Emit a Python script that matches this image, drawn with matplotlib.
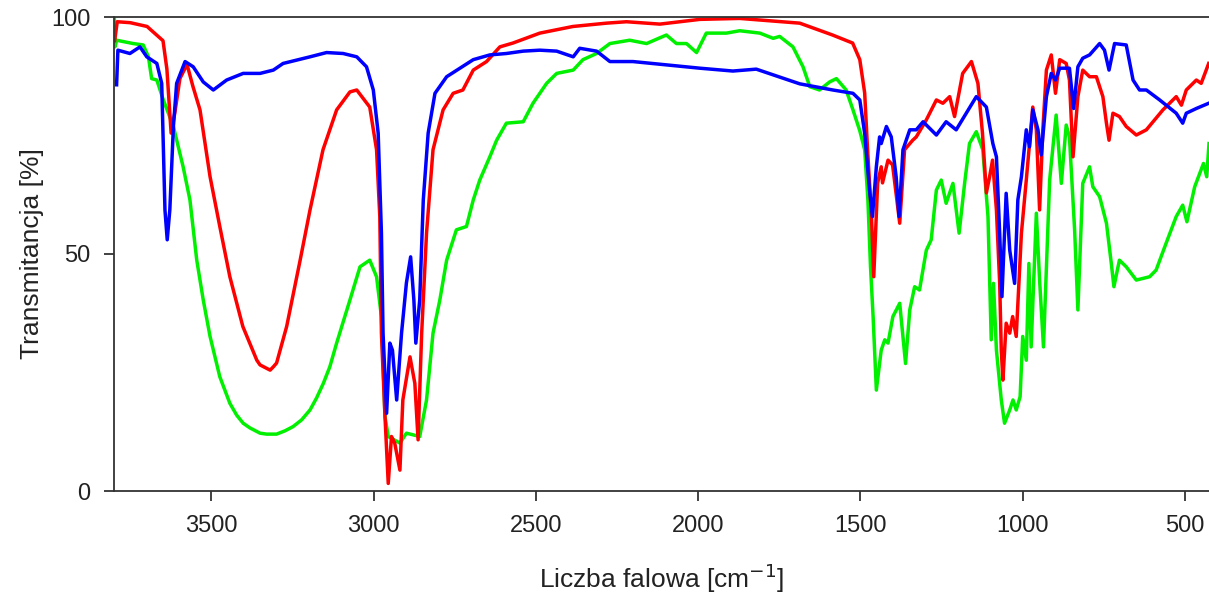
import matplotlib
matplotlib.use("Agg")
import matplotlib.pyplot as plt

# ---- data (wavenumber [cm-1], transmittance [%]) ----
red_wn = [3798, 3790, 3750, 3698, 3690, 3649, 3637, 3624, 3612, 3597, 3575, 3557, 3535, 3504, 3474,
          3443, 3403, 3360, 3350, 3319, 3309, 3299, 3268, 3227, 3196, 3156, 3114, 3073, 3052, 3012, 2991,
          2981, 2976, 2965, 2955, 2945, 2935, 2919, 2910, 2888, 2873, 2863, 2852, 2837, 2817,
          2786, 2755, 2725, 2693, 2652, 2611, 2571, 2488, 2386, 2283, 2221, 2118, 1995, 1872,
          1687, 1586, 1524, 1502, 1487, 1478, 1466, 1459, 1447, 1436, 1432, 1415, 1401, 1379,
          1364, 1339, 1328, 1297, 1266, 1246, 1225, 1210, 1185, 1158, 1138, 1124, 1112, 1102,
          1093, 1081, 1071, 1066, 1061, 1051, 1040, 1031, 1020, 1004, 989, 969, 958, 948, 938,
          927, 912, 899, 886, 866, 856, 845, 830, 815, 794, 773, 753, 742, 734, 722, 702, 681,
          650, 619, 568, 527, 511, 496, 465, 450, 427]
red_t = [95, 99, 98.8, 98, 97.5, 95, 89, 75.5, 80, 87, 90, 85.4, 80.4, 66.3, 55.8,
         45.2, 34.7, 27.6, 26.6, 25.5, 26.2, 27, 34.7, 48.5, 59.3, 72, 80.4, 84.2, 84.6, 81, 72,
         57.9, 33.3, 15.7, 1.6, 11.5, 10.1, 4.4, 19.2, 28.3, 22.7, 10.8, 33.3, 54.4, 72,
         80.4, 83.9, 84.6, 88.8, 90.6, 93.7, 94.5, 96.6, 98, 98.7, 99, 98.5, 99.5, 99.7,
         98.7, 96.2, 94.5, 91, 84, 72, 57.9, 45.2, 65, 68.4, 65, 69.8, 68.8, 56.5,
         72, 74, 74.7, 78.3, 82.5, 81.8, 83.2, 79, 88.1, 90.6, 86, 75.5, 62.9, 66.3,
         69.8, 59.3, 43.9, 29.7, 23.4, 35.4, 33.3, 36.8, 32.6, 54.4, 65.6, 81, 76.2, 59.3, 76.2,
         88.8, 92, 83.9, 91, 90.2, 86.7, 70.5, 83.2, 88.8, 87.4, 87.4, 83.2, 77.6, 74, 79.7, 79, 76.9,
         75.1, 76.2, 80.4, 83.2, 81.4, 84.6, 86.7, 86, 90.2]

blue_wn = [3792, 3788, 3751, 3720, 3699, 3668, 3653, 3650, 3643, 3636, 3628, 3617, 3607, 3581,
           3556, 3525, 3494, 3453, 3402, 3350, 3309, 3279, 3196, 3145, 3094, 3052, 3022, 3001,
           2986, 2976, 2971, 2960, 2950, 2942, 2929, 2914, 2899, 2886, 2876, 2870, 2858, 2847,
           2832, 2811, 2775, 2734, 2693, 2642, 2591, 2539, 2488, 2436, 2385, 2365, 2313, 2272,
           2201, 2098, 1995, 1893, 1821, 1739, 1687, 1585, 1523, 1502, 1487, 1472, 1463, 1451,
           1441, 1436, 1420, 1405, 1390, 1381, 1369, 1348, 1328, 1307, 1266, 1236, 1205, 1174,
           1143, 1112, 1092, 1081, 1071, 1064, 1051, 1040, 1025, 1015, 1004, 989, 979, 969, 953,
           943, 927, 912, 899, 886, 856, 843, 830, 815, 794, 763, 748, 734, 717, 681, 660, 640,
           619, 578, 527, 507, 496, 465, 427]
blue_t = [85.7, 93, 92.3, 93.7, 91.6, 90.2, 86, 78, 59.3, 53, 59.3, 76.9, 86, 90.6,
          89.5, 86.3, 84.6, 86.7, 88.1, 88.1, 88.8, 90.2, 91.6, 92.5, 92.3, 91.6, 89.5, 84.6,
          75.5, 54.4, 33.3, 16.4, 31.2, 29.7, 19.2, 33.3, 43.9, 49.4, 40.3, 31.2, 40.3, 61.4,
          75.5, 83.9, 87.4, 89.2, 91, 92, 92.3, 92.8, 93, 92.8, 91.6, 93.4, 92.8, 90.6,
          90.6, 89.9, 89.2, 88.6, 89, 87.1, 85.9, 84.6, 83.9, 82.5, 75.5, 63.5, 57.9, 68.4,
          74.7, 73.3, 76.9, 74.7, 66.3, 57.9, 72, 76.2, 76.2, 77.9, 75.1, 77.9, 76.2, 79.7,
          83.2, 81, 73.3, 70.5, 54.4, 41, 62.8, 50.8, 43.8, 61.4, 66.3, 76.2, 72.6, 80.4, 76.2,
          70.9, 83.2, 88.1, 86.7, 89.2, 89.2, 80.7, 89.5, 91.3, 92, 94.4, 93, 88.8, 94.4, 94.1, 86.7, 84.6,
          84.6, 82.5, 79.7, 77.6, 79.7, 80.7, 81.8]

green_wn = [3799, 3797, 3792, 3741, 3710, 3694, 3684, 3668, 3648, 3617, 3587, 3566, 3545, 3525,
            3504, 3474, 3443, 3422, 3402, 3381, 3350, 3330, 3299, 3273, 3248, 3222, 3196, 3176,
            3155, 3135, 3114, 3095, 3073, 3042, 3012, 2991,
            2976, 2965, 2955, 2919, 2899, 2858, 2837, 2817, 2796, 2775, 2745, 2714, 2693, 2673,
            2642, 2621, 2591, 2539, 2509, 2467, 2436, 2385, 2355, 2313, 2272, 2211, 2159, 2098,
            2067, 2036, 2005, 1975, 1913, 1872, 1810, 1769, 1749, 1708, 1677, 1656, 1626, 1595,
            1574, 1544, 1523, 1502, 1487, 1477, 1469, 1461, 1451, 1436, 1425, 1415, 1400, 1379,
            1361, 1348, 1333, 1318, 1297, 1282, 1266, 1251, 1236, 1215, 1196, 1179, 1164, 1143,
            1123, 1107, 1097, 1090, 1081, 1066, 1056, 1040, 1030, 1020, 1008, 1000, 989, 981, 974,
            958, 948, 936, 917, 897, 881, 866, 856, 840, 830, 815, 794, 784, 763, 742, 727, 719,
            702, 681, 650, 609, 589, 558, 527, 507, 494, 470, 443, 433, 426]
green_t = [100, 93.7, 95.1, 94.4, 94.1, 91.6, 87, 86.7, 82.5, 76.9, 68.4, 61.4, 48.7, 40.3,
           32.6, 24.1, 18.5, 16, 14.3, 13.3, 12.2, 12, 12, 12.7, 13.6, 15, 17.1, 19.6,
           22.7, 26.2, 31.2, 35.4, 40.3, 47.3, 48.7, 45.2,
           36.8, 15.7, 11.5, 10.1, 12.2, 11.5, 19.2, 33.3, 40.3, 48.7, 55.1, 55.8, 61.4, 65.6,
           70.5, 74, 77.6, 77.9, 81.8, 86, 88.1, 88.8, 91, 92.3, 94.4, 95.1, 94.4, 96.2,
           94.4, 94.4, 92.5, 96.6, 96.6, 97.1, 96.6, 95.5, 95.9, 93.7, 89.5, 85.3, 84.6, 86.3,
           87, 84.6, 80.4, 76, 72, 61.4, 47.3, 36.8, 21.3, 29.7, 31.9, 31.2, 36.8, 39.6,
           26.9, 38.2, 43.1, 42.4, 50.8, 53, 63.5, 65.6, 60.7, 64.9, 54.4, 64.9, 73.3, 75.8,
           72, 57.9, 31.9, 43.8, 29.7, 19.2, 14.3, 17.1, 19.2, 17.1, 19.9, 32.6, 27.6, 48, 30.4,
           58.6, 44.5, 30.4, 65.6, 79.3, 64.9, 77.2, 74.7, 55, 38.2, 64.9, 68.4, 64.2, 62.1, 56.5, 48, 43.1,
           48.7, 47.3, 44.5, 45.2, 46.6, 52.3, 57.9, 60.3, 56.8, 64.2, 69.1, 66.3, 73.3]

x_ticks = [3500, 3000, 2500, 2000, 1500, 1000, 500]
y_ticks = [0, 50, 100]

plt.rcParams['font.family'] = ['Liberation Sans', 'DejaVu Sans']

fig = plt.figure(figsize=(12.09, 5.95), dpi=100)
ax = fig.add_axes([114 / 1209, 104 / 595, 1 - 114 / 1209, 474 / 595])

lw = 2.5
ax.plot(green_wn, green_t, color='#00f000', lw=lw, solid_joinstyle='round')
ax.plot(red_wn, red_t, color='#ff0000', lw=lw, solid_joinstyle='round')
ax.plot(blue_wn, blue_t, color='#0000ff', lw=lw, solid_joinstyle='round')

ax.set_xlim(3800, 426)
ax.set_ylim(0, 100)
ax.set_xticks(x_ticks)
ax.set_yticks(y_ticks)

for s in ['left', 'bottom', 'top']:
    ax.spines[s].set_color('#333333')
    ax.spines[s].set_linewidth(1.3)
ax.spines['right'].set_visible(False)

ax.tick_params(axis='both', direction='out', length=7, width=1.3, color='#333333',
               labelsize=17, labelcolor='#222222')
ax.tick_params(axis='x', pad=10)
ax.tick_params(axis='y', pad=10)

ax.set_xlabel('Liczba falowa [cm$^{-1}$]', fontsize=19, color='#222222', labelpad=18)
ax.set_ylabel('Transmitancja [%]', fontsize=19, color='#222222', labelpad=5)

fig.savefig('out.png', dpi=100)
